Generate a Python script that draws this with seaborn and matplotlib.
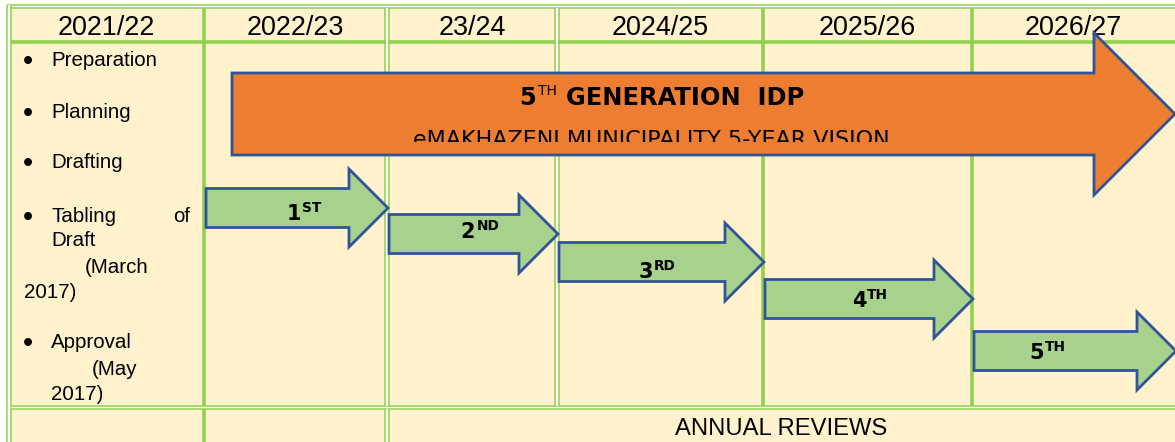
import numpy as np
import pandas as pd
import matplotlib.pyplot as plt
import seaborn as sns
from matplotlib.patches import FancyArrow, Rectangle

# --- data ------------------------------------------------------------------
years = ["2021/22", "2022/23", "23/24", "2024/25", "2025/26", "2026/27"]
col_edges = [9, 204, 387, 557, 763, 972, 1175]     # table column boundaries (px)
double_cols = [2, 3]                                # boundaries drawn as double rules

review_num = ["1", "2", "3", "4", "5"]
review_sfx = ["ST", "ND", "RD", "TH", "TH"]
review_y = [208, 234, 262, 299, 351]                # arrow centre line (px from top)
label_x = [304, 480, 657, 870, 1048]
label_y = [220, 238, 278, 307, 359]

vision_title = ("5", "TH", "GENERATION  IDP")
vision_sub = "eMAKHAZENI MUNICIPALITY 5-YEAR VISION"
bottom_text = "ANNUAL REVIEWS"

# --- style ------------------------------------------------------------------
CREAM = "#FFF2CC"
GREEN = "#92D050"
ARROW_GREEN = "#A9D18E"
ORANGE = "#ED7D31"
EDGE = "#2F5597"
W, H = 1175, 442

sns.set_theme(style="white")
plt.rcParams["font.family"] = ["Liberation Sans", "DejaVu Sans"]
plt.rcParams["text.color"] = "black"

fig = plt.figure(figsize=(W / 100, H / 100), dpi=100)
ax = fig.add_axes([0, 0, 1, 1])
ax.set_xlim(0, W)
ax.set_ylim(H, 0)
ax.axis("off")
renderer = fig.canvas.get_renderer()

ax.add_patch(Rectangle((11, 8), W - 11, H - 8, facecolor=CREAM, edgecolor="none", zorder=0))


def rule(x0, x1, y0, y1, double=False, lw=2.6):
    if double:
        ax.plot([x0, x1], [y0, y1], color="white", lw=1.6, solid_capstyle="butt", zorder=1)
        for d in (-1.8, 1.8):
            if x0 == x1:
                ax.plot([x0 + d, x1 + d], [y0, y1], color=GREEN, lw=1.1, solid_capstyle="butt", zorder=1)
            else:
                ax.plot([x0, x1], [y0 + d, y1 + d], color=GREEN, lw=1.1, solid_capstyle="butt", zorder=1)
    else:
        ax.plot([x0, x1], [y0, y1], color=GREEN, lw=lw, solid_capstyle="butt", zorder=1)


# table grid
rule(7, W, 6.5, 6.5, double=True)
rule(9, 9, 5, H, double=True)
rule(11, W, 42, 42)
rule(11, W, 407.5, 407.5, double=True)
for i, x in enumerate(col_edges[1:-1], start=1):
    rule(x, x, 8, 406, double=i in double_cols)
rule(col_edges[1], col_edges[1], 409, H)
rule(col_edges[2], col_edges[2], 409, H, double=True)

# header years
for i, yr in enumerate(years):
    ax.text((col_edges[i] + col_edges[i + 1]) / 2, 35, yr, fontsize=19.4,
            ha="center", va="baseline", zorder=3)

# first column bullet list
fs = 14.8
for y, txt in [(66, "Preparation"), (118, "Planning"), (168, "Drafting"),
               (222, "Tabling"), (348, "Approval")]:
    ax.text(28, y + 4, "\u2022", fontsize=21, ha="center", va="baseline", zorder=3)
    ax.text(51, y, txt, fontsize=fs, ha="left", va="baseline", zorder=3)
ax.text(190, 222, "of", fontsize=fs, ha="right", va="baseline", zorder=3)
ax.text(51, 246, "Draft", fontsize=fs, ha="left", va="baseline", zorder=3)
ax.text(85, 273, "(March", fontsize=fs, ha="left", va="baseline", zorder=3)
ax.text(24, 298, "2017)", fontsize=fs, ha="left", va="baseline", zorder=3)
ax.text(92, 375, "(May", fontsize=fs, ha="left", va="baseline", zorder=3)
ax.text(51, 400, "2017)", fontsize=fs, ha="left", va="baseline", zorder=3)

ax.text(781, 435, bottom_text, fontsize=17.1, ha="center", va="baseline", zorder=3)


def pieces_text(xc, y, pieces, **kw):
    """pieces: list of (text, size, rise, gap, weight); centred at xc."""
    arts, widths = [], []
    for txt, size, rise, gap, weight in pieces:
        t = ax.text(0, y - rise, txt, fontsize=size, fontweight=weight, ha="left",
                    va="baseline", family="DejaVu Sans", zorder=5, **kw)
        arts.append(t)
        widths.append(t.get_window_extent(renderer).width)
    total = sum(widths) + sum(p[3] for p in pieces)
    x = xc - total / 2
    for t, w, p in zip(arts, widths, pieces):
        x += p[3]
        t.set_x(x)
        x += w
    return arts


# big orange vision arrow
ax.add_patch(FancyArrow(232, 114, W - 232, 0, width=82, head_width=162, head_length=81,
                        length_includes_head=True, facecolor=ORANGE, edgecolor=EDGE,
                        lw=2.0, zorder=4))
pieces_text(662, 105, [(vision_title[0], 17.4, 0, 0, "bold"),
                       (vision_title[1], 10, 10, 2, "normal"),
                       (vision_title[2], 17.4, 0, 9, "bold")])
clip = Rectangle((232, 60), 860, 82, transform=ax.transData)
sub = ax.text(651, 146, vision_sub, fontsize=16.0, ha="center", va="baseline",
              family="DejaVu Sans", zorder=5, clip_on=True)
sub.set_clip_path(clip)

# yearly review arrows
for i in range(len(review_num)):
    x0 = col_edges[i + 1] + 2
    x1 = col_edges[i + 2] + 1
    ax.add_patch(FancyArrow(x0, review_y[i], x1 - x0, 0, width=39, head_width=78,
                            head_length=39, length_includes_head=True,
                            facecolor=ARROW_GREEN, edgecolor=EDGE, lw=2.0, zorder=4))
    pieces_text(label_x[i], label_y[i], [(review_num[i], 15, 0, 0, "bold"),
                                         (review_sfx[i], 9.9, 8, 1, "bold")])

fig.savefig("out.png", dpi=100, facecolor="white")
